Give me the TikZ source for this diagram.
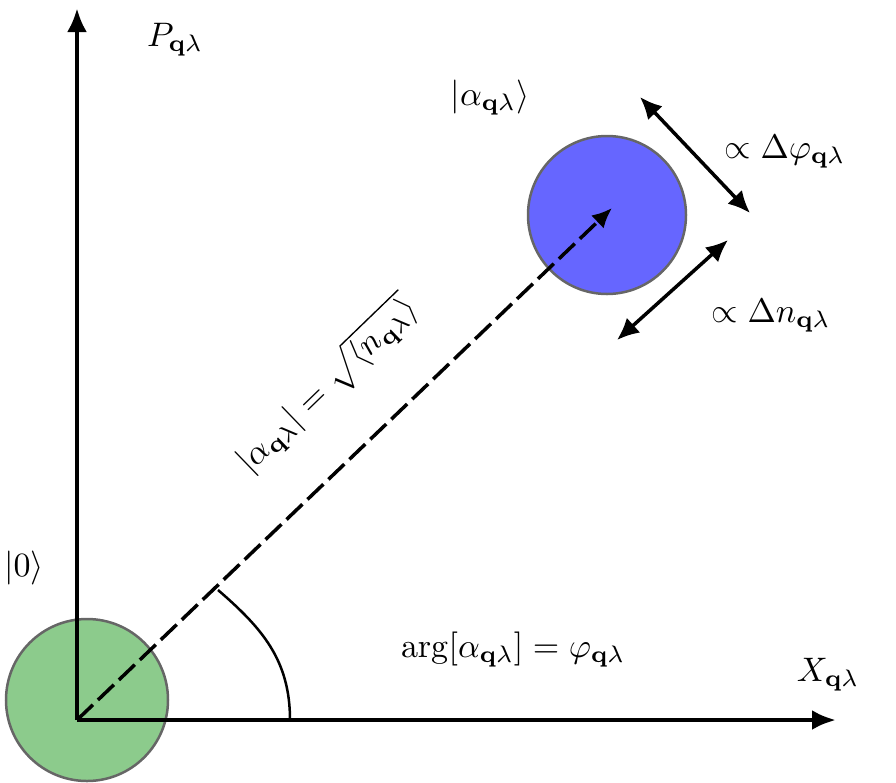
\documentclass[tikz,border=0pt]{standalone}
\usepackage{amsmath}
\usetikzlibrary{arrows.meta}
\newcommand{\bigtxt}[1]{\scalebox{3.4}{#1}}
\begin{document}
\begin{tikzpicture}[x=1pt,y=-1pt,
  axis/.style={line width=4.5pt,-{Latex[length=24pt,width=20pt]}},
  dbl/.style={line width=3.5pt,{Latex[length=22pt,width=20pt]}-{Latex[length=22pt,width=20pt]}},
  lbl/.style={inner sep=0pt},
  blob/.style={draw=black!60,line width=2.5pt}]
\useasboundingbox (0,0) rectangle (896,782);
\coordinate (O) at (77,720);
\fill[blob,fill=green!55!black!45!white] (87,700) circle (81);
\node[blob,circle,minimum size=158pt,fill=blue!60!white] (B) at (607,215) {};
\coordinate (Y) at (77,8);
\coordinate (X) at (836,720);
\draw[axis] (O) -- (Y);
\draw[axis] (O) -- (X);
\coordinate (T) at (612,208);
\draw[line width=3.5pt,dash pattern=on 22pt off 7pt,-{Latex[length=20pt,width=18pt]}] (O) -- (T);
\coordinate (A1) at (218,590);
\coordinate (A2) at (290,720);
\draw[line width=2.5pt] (A1) .. controls (262,628) and (290,660) .. (A2);
\coordinate (d1) at (640,97); \coordinate (d2) at (750,213);
\coordinate (e1) at (617,340); \coordinate (e2) at (728,240);
\draw[dbl] (d1) -- (d2);
\draw[dbl] (e1) -- (e2);
\node[lbl] (py) at (175,40) {\bigtxt{$P_{\mathbf{q}\lambda}$}};
\node[lbl] (px) at (828,675) {\bigtxt{$X_{\mathbf{q}\lambda}$}};
\node[lbl] (pz) at (24,568) {\bigtxt{$|0\rangle$}};
\node[lbl] (pa) at (490,98) {\bigtxt{$|\alpha_{\mathbf{q}\lambda}\rangle$}};
\node[lbl] (pphi) at (785,152) {\bigtxt{$\propto\Delta\varphi_{\mathbf{q}\lambda}$}};
\node[lbl] (pn) at (771,316) {\bigtxt{$\propto\Delta n_{\mathbf{q}\lambda}$}};
\node[lbl] (parg) at (513,650) {\bigtxt{$\arg[\alpha_{\mathbf{q}\lambda}]=\varphi_{\mathbf{q}\lambda}$}};
\node[lbl,rotate=44] (pmod) at (327,385) {\bigtxt{$|\alpha_{\mathbf{q}\lambda}|=\sqrt{\langle n_{\mathbf{q}\lambda}\rangle}$}};
\end{tikzpicture}
\end{document}
